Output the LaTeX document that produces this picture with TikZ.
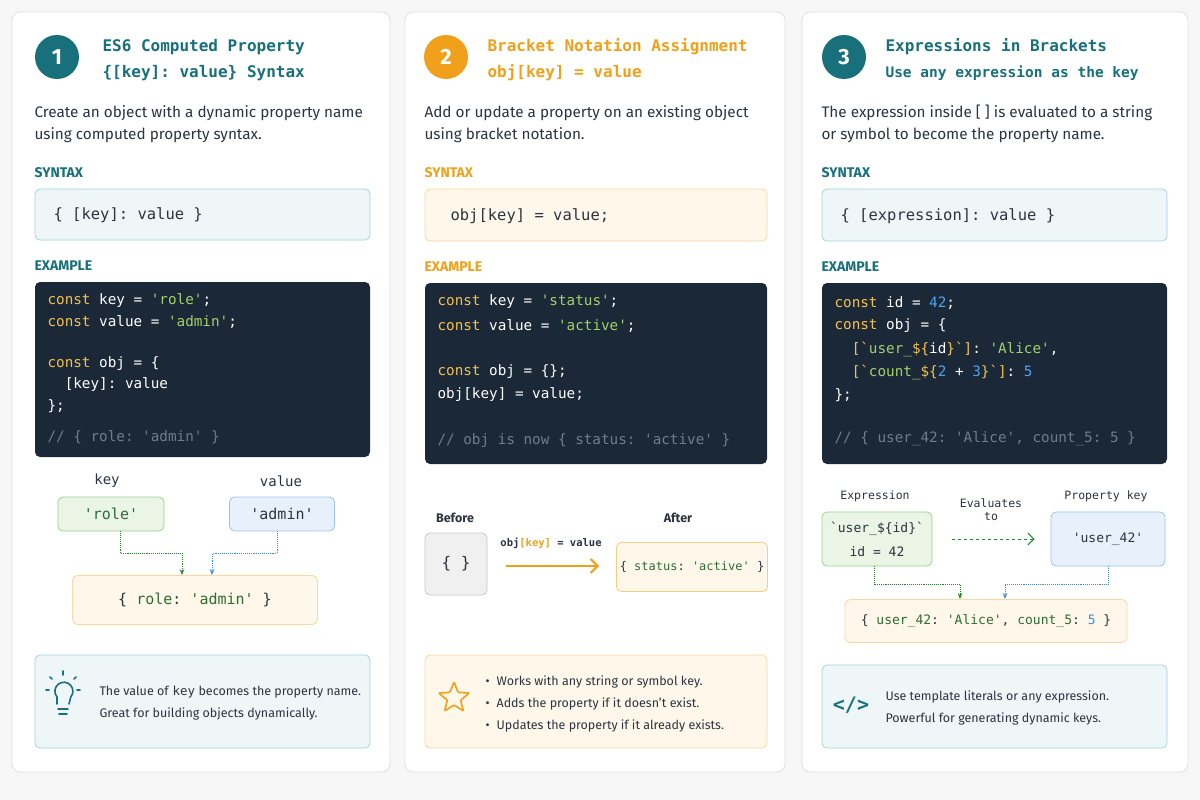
\documentclass[tikz,border=0pt]{standalone}
\usepackage{fontspec}
\setmainfont{Fira Sans}
\setmonofont{DejaVu Sans Mono}
\usetikzlibrary{positioning,calc,arrows.meta,shapes.geometric}
\definecolor{pagebg}{HTML}{F7F7F8}
\definecolor{teal}{HTML}{17707A}
\definecolor{orng}{HTML}{F0A01A}
\definecolor{txt}{HTML}{2B3440}
\definecolor{codebg}{HTML}{1B2838}
\definecolor{kwc}{HTML}{F2C14E}
\definecolor{strc}{HTML}{A5CF6A}
\definecolor{numc}{HTML}{4DA3F0}
\definecolor{cmc}{HTML}{6E7C8C}
\definecolor{grnfill}{HTML}{EAF5E6}
\definecolor{grnline}{HTML}{9FCF93}
\definecolor{grntxt}{HTML}{2E6B35}
\definecolor{blufill}{HTML}{E8F1FB}
\definecolor{bluline}{HTML}{9CC3EC}
\definecolor{blutxt}{HTML}{3A8EE0}
\definecolor{orfill}{HTML}{FFF8EA}
\definecolor{orline}{HTML}{F6D8A0}
\definecolor{tlfill}{HTML}{EEF6F8}
\definecolor{tlline}{HTML}{A7D3D9}
\newcommand{\kw}[1]{\textcolor{kwc}{#1}}
\newcommand{\str}[1]{\textcolor{strc}{#1}}
\newcommand{\num}[1]{\textcolor{numc}{#1}}
\newcommand{\gs}[1]{\textcolor{grntxt}{#1}}
\begin{document}
\begin{tikzpicture}[x=1pt,y=-1pt,
  panel/.style={draw=black!12, fill=white, rounded corners=8pt, line width=0.8pt},
  badge/.style={circle, fill=#1, text=white, minimum size=44pt, inner sep=0pt,
    font=\fontsize{22}{24}\selectfont\bfseries},
  ttl/.style={anchor=west, text=#1, font=\fontsize{16}{19}\ttfamily\bfseries},
  desc/.style={anchor=west, text=txt, font=\fontsize{15.3}{18}\selectfont},
  sect/.style={anchor=west, text=#1, font=\fontsize{14}{16}\selectfont\bfseries},
  box/.style 2 args={draw=#2, fill=#1, rounded corners=5pt, line width=0.8pt},
  code/.style={anchor=west, text=white, font=\fontsize{14.3}{16}\ttfamily},
  cmt/.style={anchor=west, text=cmc, font=\fontsize{14.3}{16}\ttfamily},
  mono/.style={text=txt, font=\fontsize{14}{16}\ttfamily},
  small/.style={text=txt, font=\fontsize{12.5}{15}\selectfont\bfseries},
  tip/.style={anchor=west, text=txt, font=\fontsize{12.5}{15}\selectfont},
  flow/.style={densely dotted, line width=0.9pt, -{Stealth[length=6pt]}}
]
\fill[pagebg] (0,0) rectangle (1200,800);
\draw[panel] (12,12) rectangle (390,772);
\draw[panel] (405,12) rectangle (785,772);
\draw[panel] (802,12) rectangle (1188,772);

% panel 1
\node[badge=teal] (b1) at (57,57) {1};
\node[ttl=teal] (t1a) at (99,47) {ES6 Computed Property};
\node[ttl=teal] (t1b) at (99,73) {\{[key]: value\} Syntax};
\node[desc] (d1a) at (31,113) {Create an object with a dynamic property name};
\node[desc] (d1b) at (31,135) {using computed property syntax.};
\node[sect=teal] (s1) at (31,173) {SYNTAX};
\draw[box={tlfill}{tlline}] (35,189) rectangle (370,240);
\node[mono, anchor=west, font=\fontsize{15.5}{17}\ttfamily] (syn1) at (50,215) {\{ [key]: value \}};
\node[sect=teal] (e1) at (31,266) {EXAMPLE};
\fill[codebg, rounded corners=5pt] (35,282) rectangle (370,457);
\node[code] at (44,301) {\kw{const} key = \str{'role'};};
\node[code] at (44,322) {\kw{const} value = \str{'admin'};};
\node[code] at (44,364) {\kw{const} obj = \{};
\node[code] at (44,385) {\ \ [key]: value};
\node[code] at (44,406) {\};};
\node[cmt] at (44,437) {// \{ role: 'admin' \}};
\node[mono] (k1) at (107,481) {key};
\node[mono] (v1) at (281,481) {value};
\node[box={grnfill}{grnline}, text=grntxt, font=\fontsize{15}{17}\ttfamily,
  minimum width=106pt, minimum height=34pt] (role) at (111,514) {'role'};
\node[box={blufill}{bluline}, text=txt, font=\fontsize{15}{17}\ttfamily,
  minimum width=105pt, minimum height=34pt] (admin) at (282,514) {'admin'};
\node[box={orfill}{orline}, text=txt, font=\fontsize{15}{17}\ttfamily,
  minimum width=245pt, minimum height=49pt] (res1) at (195,600)
  {\{ \gs{role}: \gs{'admin'} \}};
\draw[flow, draw=grntxt!80!green] ([xshift=9pt]role.south) -- ++(0,22) -| ([xshift=-13pt]res1.north);
\draw[flow, draw=blutxt] ([xshift=-5pt]admin.south) -- ++(0,22) -| ([xshift=17pt]res1.north);
\draw[box={tlfill}{tlline}] (35,655) rectangle (370,748);
% lightbulb
\begin{scope}[draw=teal, line width=1.6pt, line cap=round]
  \draw (57,704) -- (57,697) arc[start angle=220, end angle=-40, radius=9pt] -- (69,704);
  \draw (58,709) -- (68,709); \draw (59,714) -- (67,714);
  \draw (63,671) -- (63,675); \draw (50,677) -- (52,679); \draw (76,677) -- (74,679);
  \draw (46,690) -- (49,690); \draw (77,690) -- (80,690);
\end{scope}
\node[tip] (tp1a) at (96,692) {The value of \texttt{key} becomes the property name.};
\node[tip] (tp1b) at (96,714) {Great for building objects dynamically.};

% panel 2
\node[badge=orng] (b2) at (446,57) {2};
\node[ttl=orng] (t2a) at (484,47) {Bracket Notation Assignment};
\node[ttl=orng] (t2b) at (484,73) {obj[key] = value};
\node[desc] (d2a) at (421,113) {Add or update a property on an existing object};
\node[desc] (d2b) at (421,135) {using bracket notation.};
\node[sect=orng] (s2) at (421,173) {SYNTAX};
\draw[box={orfill}{orline}] (425,189) rectangle (767,241);
\node[mono, anchor=west, font=\fontsize{15.5}{17}\ttfamily] (syn2) at (447,216) {obj[key] = value;};
\node[sect=orng] (e2) at (421,267) {EXAMPLE};
\fill[codebg, rounded corners=5pt] (425,283) rectangle (767,464);
\node[code] at (434,302) {\kw{const} key = \str{'status'};};
\node[code] at (434,326) {\kw{const} value = \str{'active'};};
\node[code] at (434,372) {\kw{const} obj = \{\};};
\node[code] at (434,395) {obj[key] = value;};
\node[cmt] at (434,441) {// obj is now \{ status: 'active' \}};
\node[small] (bef) at (455,518) {Before};
\node[small] (aft) at (678,518) {After};
\node[box={black!6}{black!22}, minimum width=62pt, minimum height=62pt,
  font=\fontsize{16}{18}\ttfamily, text=txt] (empty) at (456,564) {\{ \}};
\node[box={orfill}{orline!80!orng}, minimum width=150pt, minimum height=49pt,
  font=\fontsize{12}{14}\ttfamily, text=txt] (after) at (692,567)
  {\{ \gs{status}: \gs{'active'} \}};
\node[mono, font=\fontsize{10.5}{12}\ttfamily\bfseries] (op) at (551,543)
  {obj\textcolor{orng}{[key]} = value};
\draw[orng, line width=2pt, -{Straight Barb[length=7pt,width=14pt]}]
  ([xshift=19pt]empty.east|-0,566) -- ([xshift=-17pt]after.west|-0,566);
\draw[box={orfill}{orline}] (425,655) rectangle (767,748);
\node[star, star points=5, star point ratio=2.3, draw=orng, line width=1.6pt,
  minimum size=32pt, inner sep=0pt, rounded corners=1pt] (star) at (454,698) {};
\foreach \yy/\tx in {682/Works with any string or symbol key.,
  704/Adds the property if it doesn't exist.,
  726/Updates the property if it already exists.}
  \node[tip] at (482,\yy) {\textbullet\hspace{7pt}\tx};

% panel 3
\node[badge=teal] (b3) at (844,57) {3};
\node[ttl=teal] (t3a) at (882,47) {Expressions in Brackets};
\node[ttl=teal, font=\fontsize{14.5}{17}\ttfamily\bfseries] (t3b) at (882,73) {Use any expression as the key};
\node[desc] (d3a) at (818,113) {The expression inside [ ] is evaluated to a string};
\node[desc] (d3b) at (818,135) {or symbol to become the property name.};
\node[sect=teal] (s3) at (818,173) {SYNTAX};
\draw[box={tlfill}{tlline}] (822,189) rectangle (1167,241);
\node[mono, anchor=west, font=\fontsize{15.5}{17}\ttfamily] (syn3) at (837,216) {\{ [expression]: value \}};
\node[sect=teal] (e3) at (818,267) {EXAMPLE};
\fill[codebg, rounded corners=5pt] (822,283) rectangle (1167,464);
\node[code] at (831,303) {\kw{const} id = \num{42};};
\node[code] at (831,326) {\kw{const} obj = \{};
\node[code] at (831,349) {\ \ \kw{[\textasciigrave}\str{user\_}\kw{\$\{}id\kw{\}\textasciigrave]}: \str{'Alice'},};
\node[code] at (831,372) {\ \ \kw{[\textasciigrave}\str{count\_}\kw{\$\{}\num{2} + \num{3}\kw{\}\textasciigrave]}: \num{5}};
\node[code] at (831,395) {\};};
\node[cmt] at (831,439) {// \{ user\_42: 'Alice', count\_5: 5 \}};
\node[mono, font=\fontsize{11.5}{13}\ttfamily] (lexp) at (875,496) {Expression};
\node[mono, font=\fontsize{11.5}{13}\ttfamily, align=center] (lev) at (991,510) {Evaluates\\to};
\node[mono, font=\fontsize{11.5}{13}\ttfamily] (lkey) at (1106,496) {Property key};
\node[box={grnfill}{grnline}, text=txt, font=\fontsize{13}{24}\ttfamily, align=center,
  minimum width=110pt, minimum height=54pt] (expr) at (877,539)
  {\textasciigrave user\_\$\{id\}\textasciigrave\\id = 42};
\node[box={blufill}{bluline}, text=txt, font=\fontsize{13}{15}\ttfamily,
  minimum width=114pt, minimum height=54pt] (pkey) at (1108,539) {'user\_42'};
\draw[grntxt!80!green, dashed, line width=1pt, -{Straight Barb[length=6pt,width=12pt]}]
  ([xshift=20pt]expr.east) -- ([xshift=-16pt]pkey.west);
\node[box={orfill}{orline}, text=txt, font=\fontsize{13}{15}\ttfamily,
  minimum width=282pt, minimum height=43pt] (res3) at (986,621)
  {\{ \gs{user\_42}: \gs{'Alice'}, \gs{count\_5}: \textcolor{blutxt}{5} \}};
\draw[flow, draw=grntxt!80!green] ([xshift=-3pt]expr.south) -- ++(0,18) -| ([xshift=-26pt]res3.north);
\draw[flow, draw=blutxt] (pkey.south) -- ++(0,18) -| ([xshift=19pt]res3.north);
\draw[box={tlfill}{tlline}] (822,665) rectangle (1167,748);
\node[text=teal, font=\fontsize{20}{22}\ttfamily\bfseries] (icon) at (851,705) {</>};
\node[tip] (tp3a) at (882,697) {Use template literals or any expression.};
\node[tip] (tp3b) at (882,719) {Powerful for generating dynamic keys.};
\end{tikzpicture}
\end{document}
